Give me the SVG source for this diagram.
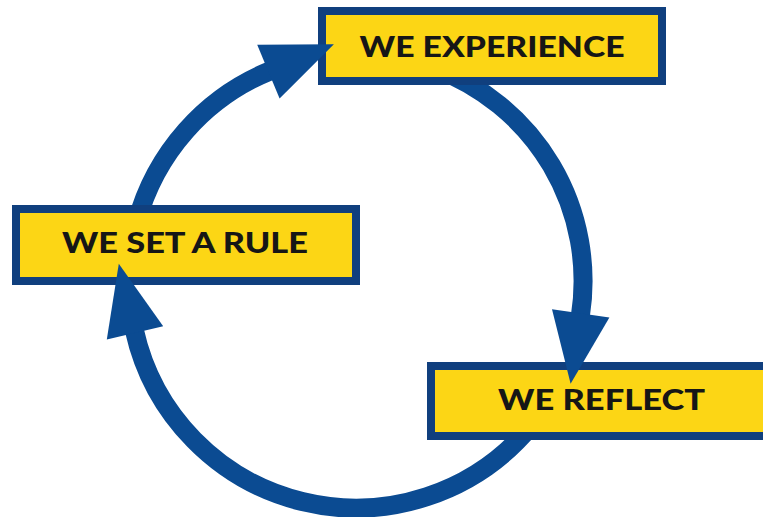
<svg xmlns="http://www.w3.org/2000/svg" width="763" height="517" viewBox="0 0 763 517">
  <style>
    .box { fill: #FCD615; stroke: #103F7E; stroke-width: 8; }
    .label { font-family: Lato, "Liberation Sans", Arial, sans-serif; font-weight: 900; font-size: 28px; fill: #161616; text-anchor: middle; }
    .arc { fill: none; stroke: #0B4B92; stroke-width: 19; }
    .head { fill: #0B4B92; }
  </style>
  <defs>
    <clipPath id="outsideBoxes">
      <path clip-rule="evenodd" d="M0 0H763V517H0Z M318 7H666V85H318Z M12 205H360V285H12Z M427 362H790V440H427Z"/>
    </clipPath>
  </defs>
  <rect width="763" height="517" fill="#FFFFFF"/>
  <g id="node-experience">
    <rect class="box" x="322" y="11" width="340" height="70"/>
    <text class="label" x="492" y="57" textLength="265" lengthAdjust="spacingAndGlyphs">WE EXPERIENCE</text>
  </g>
  <g id="node-set-rule">
    <rect class="box" x="16" y="209" width="340" height="72"/>
    <text class="label" x="185" y="253" textLength="246" lengthAdjust="spacingAndGlyphs">WE SET A RULE</text>
  </g>
  <g id="node-reflect">
    <rect class="box" x="431" y="366" width="350" height="70"/>
    <text class="label" x="601.5" y="410" textLength="207" lengthAdjust="spacingAndGlyphs">WE REFLECT</text>
  </g>
  <g id="connectors">
    <g clip-path="url(#outsideBoxes)">
      <path class="arc" d="M136.7 222.3 A227 227 0 0 1 270.8 70.6"/>
      <path class="arc" d="M433.6 67.7 A227 227 0 0 1 580.4 315.8"/>
      <path class="arc" d="M529.9 426.9 A227 227 0 0 1 134.4 330.4"/>
    </g>
    <polygon class="head" points="257.2,44.8 333.9,44.2 279.6,98.4"/>
    <polygon class="head" points="609.4,317.5 570.6,383.7 552.0,309.3"/>
    <polygon class="head" points="106.8,339.4 118.8,263.7 163.2,326.2"/>
  </g>
</svg>
